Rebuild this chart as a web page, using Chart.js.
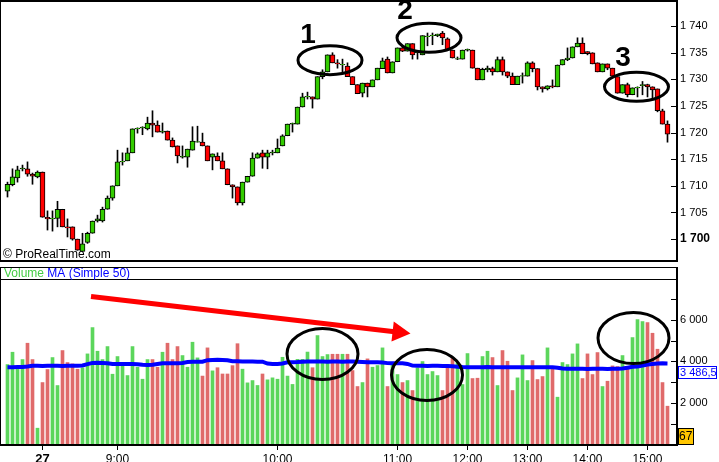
<!DOCTYPE html>
<html><head><meta charset="utf-8">
<script src="https://cdn.jsdelivr.net/npm/chart.js@4.4.1/dist/chart.umd.min.js"></script>
<style>
html,body{margin:0;padding:0;background:#fff;overflow:hidden}
#wrap{position:relative;width:719px;height:462px;background:#fff}
#c1{position:absolute;left:0;top:0;width:719px;height:265px}
#c2{position:absolute;left:0;top:265px;width:719px;height:197px}
</style></head><body>
<div id="wrap">
<canvas id="c1" width="719" height="265"></canvas>
<canvas id="c2" width="719" height="197"></canvas>
</div>
<script>
// ---- DATA ----
const opens  = [1709.0,1710.2,1711.5,1713.2,1713.2,1712.2,1711.7,1712.6,1704.1,1703.8,1703.9,1705.6,1702.3,1702.3,1700.0,1697.7,1699.4,1701.1,1703.4,1703.4,1705.6,1707.7,1710.0,1714.5,1714.7,1716.2,1720.7,1720.9,1720.7,1721.8,1721.4,1720.1,1720.3,1718.6,1717.5,1715.4,1715.4,1716.7,1718.2,1718.2,1717.5,1715.4,1715.6,1714.7,1713.2,1710.2,1709.8,1706.8,1710.7,1711.8,1715.2,1716.2,1715.4,1716.2,1716.2,1717.5,1719.4,1721.6,1721.6,1724.8,1726.7,1726.7,1726.3,1730.5,1731.4,1734.6,1733.1,1732.7,1732.5,1730.5,1729.0,1727.4,1729.3,1728.6,1729.9,1732.0,1733.8,1731.2,1733.3,1735.9,1735.3,1736.7,1735.0,1734.6,1738.0,1738.2,1738.2,1738.7,1737.6,1735.5,1733.8,1733.8,1735.5,1735.5,1732.1,1729.9,1731.8,1732.0,1731.4,1733.7,1731.4,1730.6,1729.0,1730.6,1730.6,1733.1,1732.0,1728.6,1728.2,1728.8,1728.6,1732.7,1733.7,1734.0,1736.1,1736.8,1735.2,1735.0,1733.1,1731.4,1732.9,1732.1,1730.5,1727.4,1729.0,1727.1,1728.4,1728.8,1729.0,1728.6,1728.2,1724.1,1721.6];
const highs  = [1710.7,1713.2,1713.7,1713.9,1714.5,1712.4,1712.8,1712.6,1705.3,1705.3,1707.1,1705.6,1703.8,1702.3,1700.0,1701.1,1701.3,1703.4,1704.5,1706.0,1708.1,1710.0,1716.7,1716.2,1717.1,1720.7,1720.9,1721.1,1722.9,1724.1,1722.2,1721.8,1720.3,1719.0,1717.5,1717.5,1716.9,1721.1,1721.2,1719.9,1717.5,1716.0,1716.2,1716.2,1713.2,1710.2,1709.8,1710.7,1711.8,1716.2,1716.2,1716.7,1716.7,1716.7,1718.8,1719.6,1721.6,1721.8,1724.8,1727.4,1727.6,1726.7,1730.5,1731.8,1734.6,1735.0,1733.7,1733.8,1733.1,1730.5,1729.0,1729.3,1729.3,1729.9,1732.1,1734.0,1734.2,1733.3,1735.9,1736.1,1736.7,1736.7,1735.3,1738.2,1738.7,1738.7,1738.5,1739.0,1737.8,1735.5,1734.2,1735.5,1735.7,1735.5,1732.1,1732.1,1732.5,1732.3,1734.2,1734.2,1731.4,1731.2,1730.6,1731.2,1733.3,1733.3,1732.0,1728.6,1728.8,1729.9,1732.7,1733.7,1735.9,1736.1,1737.8,1737.8,1735.2,1735.0,1733.1,1732.9,1732.9,1732.1,1730.5,1729.0,1729.3,1728.4,1728.6,1729.6,1729.1,1728.6,1728.2,1724.4,1722.2];
const lows   = [1707.9,1710.0,1710.7,1712.8,1711.8,1710.3,1711.5,1704.1,1701.7,1701.5,1702.3,1702.3,1700.4,1699.8,1697.9,1697.7,1699.2,1701.1,1703.2,1703.2,1705.6,1707.3,1710.0,1713.9,1714.7,1716.2,1719.9,1719.6,1720.5,1719.2,1720.1,1719.9,1718.6,1717.3,1714.3,1715.2,1713.5,1716.7,1718.2,1717.5,1714.7,1713.0,1714.7,1713.2,1710.2,1707.7,1706.4,1706.4,1710.7,1711.8,1715.2,1713.3,1713.2,1715.8,1716.2,1717.5,1719.4,1720.1,1721.6,1724.8,1726.3,1724.6,1726.3,1730.1,1731.4,1733.1,1732.1,1731.4,1730.5,1729.0,1727.3,1726.7,1726.7,1728.6,1729.9,1732.0,1731.2,1731.2,1733.3,1735.2,1735.3,1733.8,1733.8,1734.6,1736.3,1736.5,1738.0,1736.5,1735.5,1734.0,1733.7,1733.8,1735.3,1732.1,1729.9,1729.9,1731.4,1730.8,1731.4,1730.8,1730.3,1729.0,1729.0,1729.3,1730.6,1731.4,1728.0,1727.6,1728.0,1728.4,1728.6,1732.7,1733.5,1734.0,1736.1,1734.8,1734.6,1732.9,1731.4,1731.4,1731.8,1730.6,1727.4,1727.4,1726.7,1727.1,1726.7,1727.1,1726.7,1726.5,1723.9,1721.6,1718.2];
const closes = [1710.3,1711.7,1713.0,1713.2,1712.2,1711.8,1712.6,1704.1,1703.8,1703.8,1705.6,1702.3,1702.1,1700.0,1697.9,1699.1,1701.1,1703.4,1703.8,1705.6,1707.7,1710.0,1714.5,1714.5,1716.2,1720.7,1720.7,1720.9,1721.8,1721.4,1720.1,1720.3,1718.6,1717.3,1715.6,1715.4,1716.9,1718.4,1718.2,1717.5,1714.7,1716.0,1714.7,1713.2,1710.2,1709.8,1706.8,1710.7,1711.8,1715.2,1716.0,1715.4,1716.2,1716.2,1717.1,1719.4,1721.6,1721.6,1724.8,1726.7,1726.7,1726.3,1730.5,1731.4,1734.6,1733.1,1732.9,1732.7,1730.5,1729.0,1727.3,1729.3,1728.6,1729.9,1732.1,1733.5,1731.2,1733.3,1735.9,1735.3,1736.7,1734.6,1735.0,1738.2,1738.0,1738.2,1738.5,1737.8,1735.5,1734.0,1733.8,1735.5,1735.5,1732.1,1729.9,1731.9,1732.1,1731.4,1733.7,1731.4,1730.6,1729.0,1730.6,1730.6,1733.1,1732.0,1728.6,1728.2,1728.8,1728.6,1732.7,1733.7,1734.0,1736.1,1736.8,1734.8,1734.8,1732.9,1731.4,1732.9,1732.1,1730.6,1727.4,1729.0,1727.1,1728.4,1728.4,1729.0,1728.6,1728.0,1724.1,1721.6,1719.7];
const volumes = [3852,4442,3724,4091,4873,4091,805,2990,3613,4187,2847,4522,3948,3884,3629,3693,4362,5622,4490,4091,4713,3389,4235,3884,3325,4713,3724,3150,4091,4091,3724,4442,4873,4091,4713,4283,3724,4921,4171,
  3300,4650,3550,3700,3400,3400,3800,4850,
  3630,2975,3085,2850,3400,3120,3215,3150,4200,3300,
  2900,4100,4100,4450,3700,5240,4235,4330,4345,4345,4345,4345,3565,2800,
  2990,4123,3724,3804,4650,2800,3916,3373,2990,3086,2608,3693,3996,3373,3517,3325,2608,3852,4187,3948,2895,4378,3182,3198,4235,4490,4187,2847,4522,4011,2608,3214,4315,3086,4043,3134,3277,4650,3724,2289,3948,3852,4362,4841,3182,4362,3373,4426,2800,3054,3788,3756,4283,3693,5144,6005,5910,5862,5351,4586,2990,1858];
const volumeMA = [3724,3724,3730,3740,3760,3790,3790,3785,3790,3795,
  3790,3785,3790,3795,3800,3810,3870,3930,3935,3930,
  3910,3880,3880,3875,3880,3880,3870,3840,3835,3840,
  3880,3915,3915,3910,3915,3930,3975,3980,3985,3990,
  4060,4075,4080,4075,4060,4010,4010,4000,3995,3995,
  3990,3990,3900,3880,3875,3900,3960,3965,3970,3990,
  3995,3995,4000,3995,3990,3995,3995,3990,3995,3995,
  3990,3975,3965,3965,3960,3950,3920,3915,3915,3910,
  3880,3800,3790,3790,3785,3790,3790,3785,3780,3770,
  3750,3730,3724,3724,3720,3724,3730,3724,3720,3724,
  3724,3720,3724,3724,3728,3724,3720,3724,3724,3720,
  3700,3660,3650,3645,3650,3645,3640,3645,3650,3645,
  3640,3645,3650,3660,3700,3745,3760,3800,3850,3880,
  3900,3910,3905];
const priceTicks = [1700,1705,1710,1715,1720,1725,1730,1735,1740];
const volumeTicks = [1000,2000,3000,4000,5000,6000,7000];
const volumeLabelled = [2000,4000,6000];
const timeLabels = ["27","9:00","10:00","11:00","12:00","13:00","14:00","15:00"];
const timeIndex  = [7,22,54,78,92,104,116,128];
const lastMA = 3486.5;
const lastVolume = 67;

// ---- helpers ----
const F = '"Liberation Sans", Arial, Helvetica, sans-serif';
const fmt = v => { const s = String(v); return s.length > 3 ? s.slice(0, -3) + '\u00a0' + s.slice(-3) : s; };
const idx = opens.map((_, i) => i);
const up = idx.map(i => closes[i] >= opens[i]);
const X_MIN = -1.5, X_MAX = 134.1;

// annotations (in data units)
const priceCircles = [{x: 64.5, y: 1733.6}, {x: 84.3, y: 1737.8}, {x: 125.8, y: 1728.6}];
const priceNumbers = [{t: '1', x: 60.1, y: 1738.3}, {t: '2', x: 79.5, y: 1742.7}, {t: '3', x: 123.1, y: 1734.0}];
const volCircles = [{x: 63.0, y: 4354}, {x: 83.9, y: 3349}, {x: 125.2, y: 5120}];
const arrow = {x0: 16.7, y0: 7105, x1: 80.6, y1: 5335};

function ellipse(ctx, cx, cy, rx, ry) {
  ctx.beginPath(); ctx.ellipse(cx, cy, rx, ry, 0, 0, Math.PI * 2); ctx.stroke();
}
function noPad(s) { s.paddingTop = 0; s.paddingBottom = 0; }

const pricePlugin = {
  id: 'pricePlugin',
  afterDraw(chart) {
    const {ctx, chartArea: a, scales: {x, y}} = chart;
    ctx.save();
    ctx.fillStyle = '#000';
    ctx.fillRect(0, 0, a.right, 2);
    ctx.fillRect(0, 0, 1, a.bottom);
    ctx.fillRect(a.right - 2, 0, 2, a.bottom);
    ctx.fillRect(0, a.bottom - 2, a.right, 2);
    priceTicks.forEach(v => { const py = Math.round(y.getPixelForValue(v)); ctx.fillRect(a.right - 7, py, 6, 1); });
    ctx.font = '12px ' + F; ctx.textBaseline = 'alphabetic'; ctx.textAlign = 'left';
    ctx.fillText('\u00a9 ProRealTime.com', 3, a.bottom - 4);
    ctx.strokeStyle = '#000'; ctx.lineWidth = 3;
    priceCircles.forEach(c => ellipse(ctx, x.getPixelForValue(c.x), y.getPixelForValue(c.y), 32, 14.5));
    ctx.font = 'bold 28px ' + F; ctx.textAlign = 'center'; ctx.textBaseline = 'middle';
    priceNumbers.forEach(n => ctx.fillText(n.t, x.getPixelForValue(n.x), y.getPixelForValue(n.y)));
    ctx.restore();
  }
};

const volPlugin = {
  id: 'volPlugin',
  afterDraw(chart) {
    const {ctx, chartArea: a, scales: {x, y}} = chart;
    ctx.save();
    ctx.fillStyle = '#000';
    ctx.fillRect(0, 2, a.right, 1);
    ctx.fillRect(0, a.top - 1, a.right, 1);
    ctx.fillRect(0, 2, 1, a.bottom - 2);
    ctx.fillRect(a.right - 2, 2, 2, a.bottom - 1);
    ctx.fillRect(0, a.bottom - 1, a.right, 2);
    volumeTicks.forEach(v => { const py = Math.round(y.getPixelForValue(v)); ctx.fillRect(a.right - 7, py, 6, 1); });
    ctx.font = '12px ' + F; ctx.textBaseline = 'middle'; ctx.textAlign = 'left';
    ctx.fillStyle = '#44cc44'; ctx.fillText('Volume', 4, 9);
    const w = ctx.measureText('Volume ').width;
    ctx.fillStyle = '#0000ff'; ctx.fillText('MA (Simple 50)', 4 + w, 9);
    ctx.font = '11px ' + F;
    const my = y.getPixelForValue(lastMA);
    ctx.fillStyle = '#fff'; ctx.fillRect(a.right, my - 6, 39, 13);
    ctx.strokeStyle = '#0000ff'; ctx.lineWidth = 1; ctx.strokeRect(a.right + 0.5, Math.round(my - 6) + 0.5, 38, 12);
    ctx.fillStyle = '#0000ff'; ctx.fillText('3\u00a0486,5', a.right + 2, my + 0.5);
    const vy = Math.min(y.getPixelForValue(lastVolume), a.bottom - 9);
    ctx.fillStyle = '#ffc600'; ctx.fillRect(a.right, vy - 8, 16, 17);
    ctx.strokeStyle = '#000'; ctx.strokeRect(a.right + 0.5, Math.round(vy - 8) + 0.5, 15, 16);
    ctx.fillStyle = '#000'; ctx.font = '12px ' + F; ctx.fillText(String(lastVolume), a.right + 1, vy + 0.5);
    ctx.strokeStyle = '#000'; ctx.lineWidth = 3;
    volCircles.forEach(c => ellipse(ctx, x.getPixelForValue(c.x), y.getPixelForValue(c.y), 35.5, 25.5));
    const x0 = x.getPixelForValue(arrow.x0), y0 = y.getPixelForValue(arrow.y0);
    const x1 = x.getPixelForValue(arrow.x1), y1 = y.getPixelForValue(arrow.y1);
    const dx = x1 - x0, dy = y1 - y0, L = Math.hypot(dx, dy), ux = dx / L, uy = dy / L;
    const bx = x1 - ux * 18, by = y1 - uy * 18;
    ctx.strokeStyle = '#ff0000'; ctx.lineWidth = 5; ctx.lineCap = 'butt';
    ctx.beginPath(); ctx.moveTo(x0, y0); ctx.lineTo(bx + ux * 2, by + uy * 2); ctx.stroke();
    ctx.fillStyle = '#ff0000';
    ctx.beginPath(); ctx.moveTo(x1, y1); ctx.lineTo(bx - uy * 10, by + ux * 10); ctx.lineTo(bx + uy * 10, by - ux * 10); ctx.closePath(); ctx.fill();
    ctx.restore();
  }
};

new Chart(document.getElementById('c1'), {
  type: 'bar',
  data: {
    datasets: [
      { data: idx.map(i => ({x: i, y: [lows[i], highs[i]]})), backgroundColor: '#000', barThickness: 1, grouped: false, order: 2 },
      { data: idx.map(i => ({x: i, y: [opens[i], closes[i] === opens[i] ? opens[i] + 0.12 : closes[i]]})),
        backgroundColor: up.map(u => u ? '#33cc00' : '#ff0000'), borderColor: '#000', borderWidth: 1, borderSkipped: false,
        barThickness: 5, grouped: false, order: 1 }
    ]
  },
  options: {
    responsive: false, animation: false, devicePixelRatio: 1,
    layout: {padding: {left: 0, right: 0, top: 0, bottom: 3}},
    plugins: {legend: {display: false}, tooltip: {enabled: false}},
    scales: {
      x: {type: 'linear', min: X_MIN, max: X_MAX, display: false, offset: false, grid: {offset: false}},
      y: {position: 'right', min: 1695.7, max: 1744.9,
          afterBuildTicks: s => { s.ticks = priceTicks.map(v => ({value: v})); },
          afterFit: s => { s.width = 41; noPad(s); },
          grid: {display: false, drawTicks: false}, border: {display: false},
          ticks: {padding: 2, color: '#000', callback: v => fmt(v),
                  font: c => ({family: F, size: (c.tick && c.tick.value === 1700) ? 12 : 11, weight: (c.tick && c.tick.value === 1700) ? 'bold' : 'normal'})}}
    }
  },
  plugins: [pricePlugin]
});

new Chart(document.getElementById('c2'), {
  type: 'bar',
  data: {
    datasets: [
      { type: 'line', data: idx.map(i => ({x: i, y: volumeMA[i]})), borderColor: '#0000ff', borderWidth: 4, pointRadius: 0, order: 0, tension: 0 },
      { data: idx.map(i => ({x: i, y: volumes[i]})), backgroundColor: up.map(u => u ? '#5cd65c' : '#e06a6a'), barThickness: 3, order: 1 }
    ]
  },
  options: {
    responsive: false, animation: false, devicePixelRatio: 1,
    layout: {padding: {left: 0, right: 0, top: 15, bottom: 0}},
    plugins: {legend: {display: false}, tooltip: {enabled: false}},
    scales: {
      x: {type: 'linear', min: X_MIN, max: X_MAX, offset: false,
          afterBuildTicks: s => { s.ticks = timeIndex.map(v => ({value: v})); },
          afterFit: s => { s.height = 17; s.paddingLeft = 0; s.paddingRight = 0; },
          grid: {offset: false, drawOnChartArea: false, drawTicks: true, tickLength: 5, color: '#000'},
          border: {display: false},
          ticks: {padding: 2, color: '#000', autoSkip: false, maxRotation: 0,
                  callback: (v, i) => timeLabels[i],
                  font: c => ({family: F, size: c.index === 0 ? 13 : 12, weight: c.index === 0 ? 'bold' : 'normal'})}},
      y: {position: 'right', min: 0, max: 7900,
          afterBuildTicks: s => { s.ticks = volumeTicks.map(v => ({value: v})); },
          afterFit: s => { s.width = 41; noPad(s); },
          grid: {display: false, drawTicks: false}, border: {display: false},
          ticks: {padding: 2, color: '#000', callback: v => volumeLabelled.includes(v) ? fmt(v) : '',
                  font: {family: F, size: 11}}}
    }
  },
  plugins: [volPlugin]
});
</script>
</body></html>
